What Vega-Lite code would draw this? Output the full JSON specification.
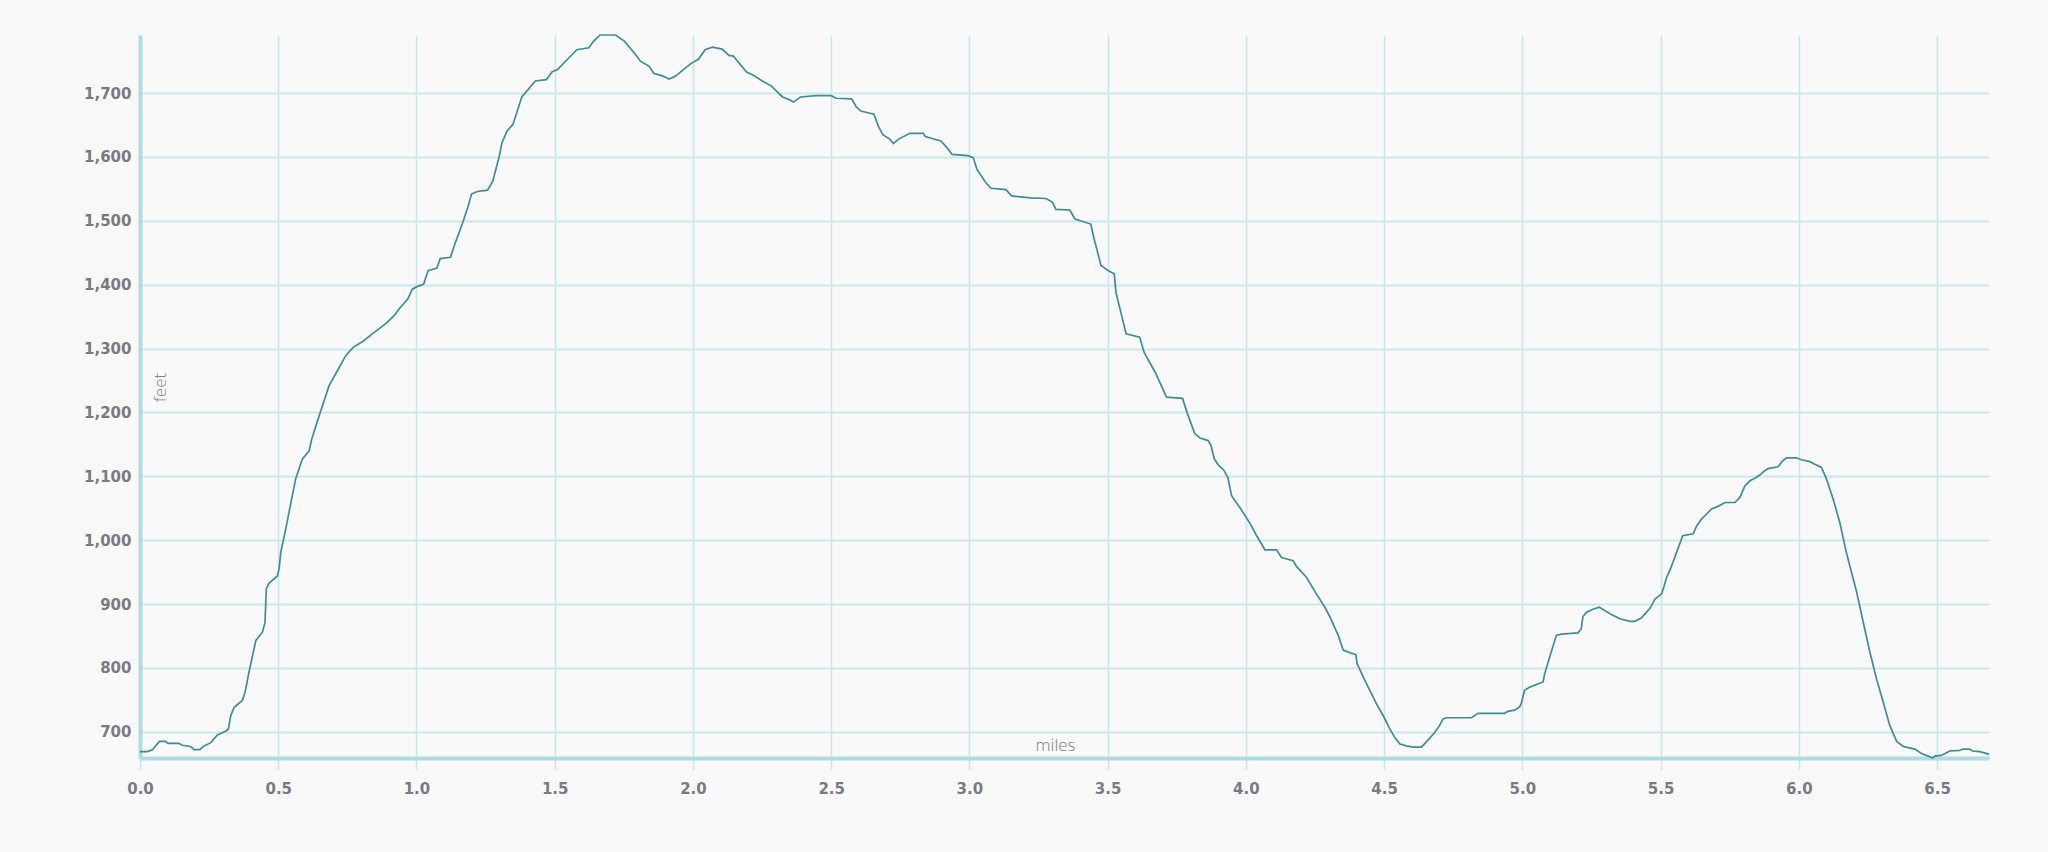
{
  "$schema": "https://vega.github.io/schema/vega-lite/v6.json",
  "autosize": {"type": "none"},
  "padding": {"left": 140, "top": 35, "right": 59, "bottom": 94},
  "width": 1849,
  "height": 723,
  "background": "#f9f9f9",
  "config": {"view": {"stroke": null}},
  "data": {"values": [
    {"miles": 0, "feet": 669}, {"miles": 0.027, "feet": 669}, {"miles": 0.045, "feet": 672}, {"miles": 0.07, "feet": 685},
    {"miles": 0.093, "feet": 685}, {"miles": 0.1, "feet": 682}, {"miles": 0.141, "feet": 682}, {"miles": 0.153, "feet": 679},
    {"miles": 0.183, "feet": 677}, {"miles": 0.195, "feet": 672}, {"miles": 0.216, "feet": 672}, {"miles": 0.232, "feet": 678},
    {"miles": 0.256, "feet": 683}, {"miles": 0.28, "feet": 695}, {"miles": 0.31, "feet": 701}, {"miles": 0.32, "feet": 705},
    {"miles": 0.328, "feet": 725}, {"miles": 0.34, "feet": 738}, {"miles": 0.37, "feet": 749}, {"miles": 0.38, "feet": 762},
    {"miles": 0.394, "feet": 793}, {"miles": 0.419, "feet": 843}, {"miles": 0.443, "feet": 856}, {"miles": 0.452, "feet": 871},
    {"miles": 0.457, "feet": 924}, {"miles": 0.467, "feet": 933}, {"miles": 0.497, "feet": 944}, {"miles": 0.503, "feet": 955},
    {"miles": 0.509, "feet": 981}, {"miles": 0.527, "feet": 1017}, {"miles": 0.545, "feet": 1057}, {"miles": 0.563, "feet": 1096},
    {"miles": 0.587, "feet": 1127}, {"miles": 0.612, "feet": 1140}, {"miles": 0.621, "feet": 1158}, {"miles": 0.648, "feet": 1195},
    {"miles": 0.684, "feet": 1242}, {"miles": 0.72, "feet": 1270}, {"miles": 0.744, "feet": 1289}, {"miles": 0.771, "feet": 1302},
    {"miles": 0.808, "feet": 1312}, {"miles": 0.84, "feet": 1323}, {"miles": 0.889, "feet": 1339}, {"miles": 0.92, "feet": 1352},
    {"miles": 0.937, "feet": 1362}, {"miles": 0.969, "feet": 1378}, {"miles": 0.985, "feet": 1393}, {"miles": 1.002, "feet": 1397},
    {"miles": 1.026, "feet": 1401}, {"miles": 1.042, "feet": 1422}, {"miles": 1.074, "feet": 1426}, {"miles": 1.086, "feet": 1441},
    {"miles": 1.123, "feet": 1443}, {"miles": 1.139, "feet": 1464}, {"miles": 1.163, "feet": 1492}, {"miles": 1.187, "feet": 1523},
    {"miles": 1.199, "feet": 1542}, {"miles": 1.22, "feet": 1546}, {"miles": 1.257, "feet": 1548}, {"miles": 1.276, "feet": 1562},
    {"miles": 1.3, "feet": 1602}, {"miles": 1.309, "feet": 1622}, {"miles": 1.328, "feet": 1641}, {"miles": 1.349, "feet": 1651},
    {"miles": 1.381, "feet": 1694}, {"miles": 1.43, "feet": 1719}, {"miles": 1.47, "feet": 1721}, {"miles": 1.49, "feet": 1733},
    {"miles": 1.51, "feet": 1737}, {"miles": 1.58, "feet": 1768}, {"miles": 1.624, "feet": 1771}, {"miles": 1.64, "feet": 1781},
    {"miles": 1.664, "feet": 1791}, {"miles": 1.72, "feet": 1791}, {"miles": 1.753, "feet": 1781}, {"miles": 1.793, "feet": 1760},
    {"miles": 1.81, "feet": 1750}, {"miles": 1.842, "feet": 1742}, {"miles": 1.858, "feet": 1731}, {"miles": 1.874, "feet": 1729},
    {"miles": 1.89, "feet": 1727}, {"miles": 1.914, "feet": 1722}, {"miles": 1.939, "feet": 1727}, {"miles": 1.963, "feet": 1736},
    {"miles": 1.995, "feet": 1747}, {"miles": 2.02, "feet": 1753}, {"miles": 2.044, "feet": 1768}, {"miles": 2.07, "feet": 1772},
    {"miles": 2.106, "feet": 1769}, {"miles": 2.13, "feet": 1759}, {"miles": 2.146, "feet": 1758}, {"miles": 2.194, "feet": 1733},
    {"miles": 2.219, "feet": 1728}, {"miles": 2.251, "feet": 1719}, {"miles": 2.284, "feet": 1711}, {"miles": 2.324, "feet": 1694},
    {"miles": 2.348, "feet": 1690}, {"miles": 2.364, "feet": 1686}, {"miles": 2.389, "feet": 1694}, {"miles": 2.445, "feet": 1696},
    {"miles": 2.5, "feet": 1696}, {"miles": 2.518, "feet": 1692}, {"miles": 2.574, "feet": 1691}, {"miles": 2.59, "feet": 1679},
    {"miles": 2.607, "feet": 1672}, {"miles": 2.655, "feet": 1667}, {"miles": 2.671, "feet": 1648}, {"miles": 2.687, "feet": 1635},
    {"miles": 2.712, "feet": 1628}, {"miles": 2.725, "feet": 1621}, {"miles": 2.744, "feet": 1628}, {"miles": 2.784, "feet": 1637},
    {"miles": 2.833, "feet": 1637}, {"miles": 2.841, "feet": 1632}, {"miles": 2.865, "feet": 1629}, {"miles": 2.897, "feet": 1625},
    {"miles": 2.914, "feet": 1617}, {"miles": 2.938, "feet": 1604}, {"miles": 2.994, "feet": 1602}, {"miles": 3.014, "feet": 1599},
    {"miles": 3.027, "feet": 1581}, {"miles": 3.059, "feet": 1560}, {"miles": 3.078, "feet": 1551}, {"miles": 3.132, "feet": 1549},
    {"miles": 3.153, "feet": 1539}, {"miles": 3.22, "feet": 1536}, {"miles": 3.277, "feet": 1535}, {"miles": 3.301, "feet": 1529},
    {"miles": 3.313, "feet": 1518}, {"miles": 3.363, "feet": 1517}, {"miles": 3.382, "feet": 1503}, {"miles": 3.439, "feet": 1495},
    {"miles": 3.45, "feet": 1474}, {"miles": 3.476, "feet": 1430}, {"miles": 3.503, "feet": 1422}, {"miles": 3.524, "feet": 1417},
    {"miles": 3.53, "feet": 1388}, {"miles": 3.567, "feet": 1323}, {"miles": 3.616, "feet": 1318}, {"miles": 3.632, "feet": 1294},
    {"miles": 3.672, "feet": 1263}, {"miles": 3.713, "feet": 1224}, {"miles": 3.771, "feet": 1222}, {"miles": 3.788, "feet": 1199},
    {"miles": 3.815, "feet": 1167}, {"miles": 3.834, "feet": 1160}, {"miles": 3.864, "feet": 1156}, {"miles": 3.874, "feet": 1148},
    {"miles": 3.886, "feet": 1127}, {"miles": 3.9, "feet": 1118}, {"miles": 3.92, "feet": 1110}, {"miles": 3.935, "feet": 1098},
    {"miles": 3.948, "feet": 1070}, {"miles": 3.96, "feet": 1062}, {"miles": 3.98, "feet": 1050}, {"miles": 3.995, "feet": 1040},
    {"miles": 4.014, "feet": 1027}, {"miles": 4.039, "feet": 1007}, {"miles": 4.069, "feet": 985}, {"miles": 4.111, "feet": 985},
    {"miles": 4.129, "feet": 973}, {"miles": 4.171, "feet": 968}, {"miles": 4.183, "feet": 959}, {"miles": 4.219, "feet": 942},
    {"miles": 4.255, "feet": 916}, {"miles": 4.286, "feet": 895}, {"miles": 4.304, "feet": 880}, {"miles": 4.334, "feet": 851},
    {"miles": 4.352, "feet": 828}, {"miles": 4.376, "feet": 824}, {"miles": 4.398, "feet": 821}, {"miles": 4.402, "feet": 807},
    {"miles": 4.43, "feet": 781}, {"miles": 4.472, "feet": 744}, {"miles": 4.496, "feet": 726}, {"miles": 4.52, "feet": 705},
    {"miles": 4.539, "feet": 691}, {"miles": 4.557, "feet": 681}, {"miles": 4.581, "feet": 678}, {"miles": 4.605, "feet": 676},
    {"miles": 4.635, "feet": 676}, {"miles": 4.659, "feet": 687}, {"miles": 4.683, "feet": 699}, {"miles": 4.701, "feet": 710},
    {"miles": 4.713, "feet": 720}, {"miles": 4.725, "feet": 722}, {"miles": 4.816, "feet": 722}, {"miles": 4.84, "feet": 729},
    {"miles": 4.936, "feet": 729}, {"miles": 4.948, "feet": 732}, {"miles": 4.972, "feet": 734}, {"miles": 4.99, "feet": 739},
    {"miles": 4.996, "feet": 744}, {"miles": 5.008, "feet": 765}, {"miles": 5.027, "feet": 770}, {"miles": 5.075, "feet": 778},
    {"miles": 5.081, "feet": 791}, {"miles": 5.099, "feet": 817}, {"miles": 5.123, "feet": 851}, {"miles": 5.141, "feet": 853},
    {"miles": 5.201, "feet": 855}, {"miles": 5.213, "feet": 861}, {"miles": 5.219, "feet": 880}, {"miles": 5.231, "feet": 887},
    {"miles": 5.255, "feet": 892}, {"miles": 5.279, "feet": 895}, {"miles": 5.286, "feet": 893}, {"miles": 5.317, "feet": 885},
    {"miles": 5.353, "feet": 877}, {"miles": 5.389, "feet": 873}, {"miles": 5.407, "feet": 873}, {"miles": 5.43, "feet": 878},
    {"miles": 5.461, "feet": 893}, {"miles": 5.48, "feet": 908}, {"miles": 5.504, "feet": 916}, {"miles": 5.512, "feet": 927},
    {"miles": 5.522, "feet": 942}, {"miles": 5.534, "feet": 953}, {"miles": 5.558, "feet": 981}, {"miles": 5.58, "feet": 1007},
    {"miles": 5.618, "feet": 1010}, {"miles": 5.63, "feet": 1022}, {"miles": 5.648, "feet": 1033}, {"miles": 5.667, "feet": 1041},
    {"miles": 5.684, "feet": 1049}, {"miles": 5.708, "feet": 1053}, {"miles": 5.733, "feet": 1059}, {"miles": 5.769, "feet": 1059},
    {"miles": 5.787, "feet": 1067}, {"miles": 5.805, "feet": 1085}, {"miles": 5.823, "feet": 1093}, {"miles": 5.841, "feet": 1097},
    {"miles": 5.859, "feet": 1102}, {"miles": 5.877, "feet": 1109}, {"miles": 5.889, "feet": 1112}, {"miles": 5.925, "feet": 1115},
    {"miles": 5.941, "feet": 1124}, {"miles": 5.955, "feet": 1129}, {"miles": 5.991, "feet": 1129}, {"miles": 6.01, "feet": 1126},
    {"miles": 6.04, "feet": 1123}, {"miles": 6.058, "feet": 1119}, {"miles": 6.082, "feet": 1114}, {"miles": 6.1, "feet": 1096},
    {"miles": 6.124, "feet": 1065}, {"miles": 6.148, "feet": 1028}, {"miles": 6.172, "feet": 981}, {"miles": 6.208, "feet": 921},
    {"miles": 6.233, "feet": 872}, {"miles": 6.257, "feet": 825}, {"miles": 6.281, "feet": 783}, {"miles": 6.305, "feet": 747},
    {"miles": 6.329, "feet": 710}, {"miles": 6.354, "feet": 685}, {"miles": 6.378, "feet": 677}, {"miles": 6.42, "feet": 673},
    {"miles": 6.444, "feet": 666}, {"miles": 6.468, "feet": 662}, {"miles": 6.484, "feet": 659}, {"miles": 6.492, "feet": 662},
    {"miles": 6.516, "feet": 663}, {"miles": 6.546, "feet": 670}, {"miles": 6.582, "feet": 671}, {"miles": 6.594, "feet": 673},
    {"miles": 6.618, "feet": 673}, {"miles": 6.628, "feet": 670}, {"miles": 6.654, "feet": 669}, {"miles": 6.688, "feet": 665}
  ]},
  "mark": {"type": "line", "color": "#3f8e96", "strokeWidth": 1.7, "interpolate": "linear"},
  "encoding": {
    "x": {
      "field": "miles", "type": "quantitative",
      "scale": {"zero": false, "nice": false},
      "axis": {
        "title": "miles",
        "values": [0, 0.5, 1, 1.5, 2, 2.5, 3, 3.5, 4, 4.5, 5, 5.5, 6, 6.5],
        "format": ".1f",
        "labelFlush": false,
        "grid": true, "gridColor": "#c6e8ec", "gridWidth": 1.5, "gridOpacity": 1,
        "domainColor": "#b0dbe0", "domainWidth": 4,
        "tickColor": "#c6e8ec", "tickWidth": 1.5, "tickSize": 12,
        "labelFont": "DejaVu Sans", "labelFontWeight": "bold", "labelFontSize": 15, "labelColor": "#7a7a84", "labelPadding": 11,
        "titleFont": "Open Sans", "titleFontWeight": 300, "titleFontSize": 17, "titleColor": "#7e7e84",
        "titleAnchor": null, "titleX": 915, "titleY": -8, "titleAlign": "center", "titleBaseline": "alphabetic"
      }
    },
    "y": {
      "field": "feet", "type": "quantitative",
      "scale": {"zero": false, "nice": false},
      "axis": {
        "title": "feet",
        "values": [700, 800, 900, 1000, 1100, 1200, 1300, 1400, 1500, 1600, 1700],
        "format": ",d",
        "labelFlush": false,
        "grid": true, "gridColor": "#cbe9ed", "gridWidth": 2, "gridOpacity": 1,
        "domainColor": "#b0dbe0", "domainWidth": 4,
        "ticks": false, "labelPadding": 9,
        "labelFont": "DejaVu Sans", "labelFontWeight": "bold", "labelFontSize": 15, "labelColor": "#7a7a84",
        "titleFont": "Open Sans", "titleFontWeight": 300, "titleFontSize": 17, "titleColor": "#7e7e84",
        "titleAnchor": null, "titleAngle": 270, "titleX": 20, "titleY": 352, "titleAlign": "center", "titleBaseline": "middle"
      }
    }
  }
}
